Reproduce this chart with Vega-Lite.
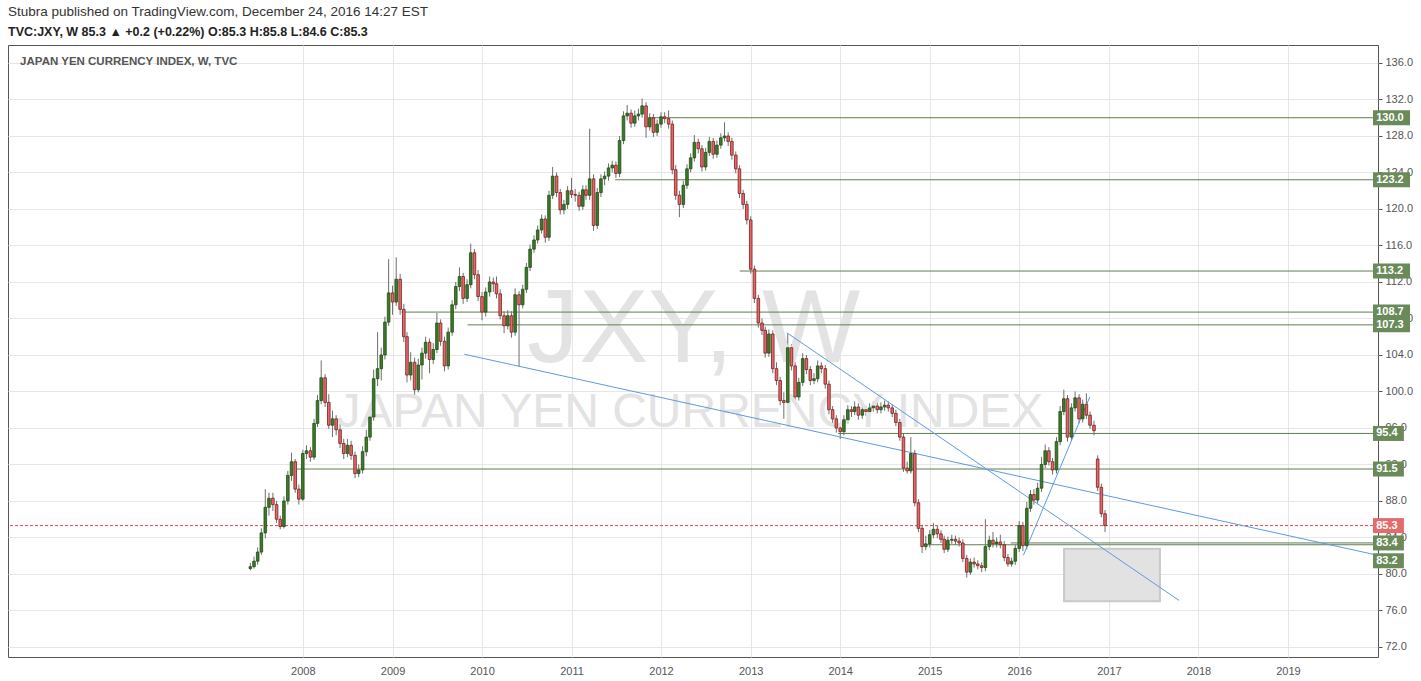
{
  "$schema": "https://vega.github.io/schema/vega-lite/v6.json",
  "width": 1370,
  "height": 612,
  "padding": {"left": 7, "top": 5, "right": 0, "bottom": 0},
  "background": "#ffffff",
  "title": {
    "text": "Stubra published on TradingView.com, December 24, 2016 14:27 EST",
    "subtitle": "TVC:JXY, W  85.3 ▲ +0.2 (+0.22%)  O:85.3  H:85.8  L:84.6  C:85.3",
    "anchor": "start", "frame": "group", "baseline": "top",
    "font": "Liberation Sans", "fontSize": 13.5, "fontWeight": "normal", "color": "#333333",
    "subtitleFont": "Liberation Sans", "subtitleFontSize": 12.5, "subtitleFontWeight": "bold", "subtitleColor": "#222222",
    "subtitlePadding": 7, "offset": 7
  },
  "config": {
    "view": {"stroke": "#555555", "strokeWidth": 1},
    "axis": {"labelFont": "Liberation Sans", "labelFontSize": 11, "labelColor": "#555555", "gridColor": "#e6e6e6", "domain": false, "title": null, "labelOverlap": false},
    "axisX": {"ticks": false, "labelPadding": 8},
    "axisY": {"ticks": true, "tickSize": 4, "tickColor": "#555555", "labelPadding": 3, "labelOverlap": false}
  },
  "datasets": {
    "jxy": [
      {"d":"2007-06-01","o":80.6,"h":81.2,"l":80.4,"c":80.8},
      {"d":"2007-06-16","o":80.8,"h":81.9,"l":80.6,"c":81.4},
      {"d":"2007-07-01","o":81.4,"h":82.9,"l":81.0,"c":82.4},
      {"d":"2007-07-16","o":82.4,"h":85.0,"l":82.1,"c":84.5},
      {"d":"2007-08-01","o":84.5,"h":89.3,"l":83.9,"c":87.3},
      {"d":"2007-08-16","o":87.3,"h":88.9,"l":86.4,"c":88.3},
      {"d":"2007-09-01","o":88.3,"h":88.9,"l":86.9,"c":87.6},
      {"d":"2007-09-16","o":87.6,"h":88.0,"l":85.6,"c":86.0},
      {"d":"2007-10-01","o":86.0,"h":86.4,"l":84.9,"c":85.2},
      {"d":"2007-10-16","o":85.2,"h":88.5,"l":85.0,"c":88.0},
      {"d":"2007-11-01","o":88.0,"h":91.3,"l":87.6,"c":90.8},
      {"d":"2007-11-16","o":90.8,"h":93.3,"l":90.2,"c":92.3},
      {"d":"2007-12-01","o":92.3,"h":92.6,"l":88.9,"c":89.3},
      {"d":"2007-12-16","o":89.3,"h":89.8,"l":87.6,"c":88.2},
      {"d":"2008-01-01","o":88.2,"h":93.6,"l":88.0,"c":93.2},
      {"d":"2008-01-16","o":93.2,"h":94.1,"l":92.6,"c":93.5},
      {"d":"2008-02-01","o":93.5,"h":93.9,"l":92.3,"c":92.8},
      {"d":"2008-02-16","o":92.8,"h":97.0,"l":92.5,"c":96.5},
      {"d":"2008-03-01","o":96.5,"h":99.6,"l":96.1,"c":99.0},
      {"d":"2008-03-16","o":99.0,"h":103.4,"l":98.6,"c":101.5},
      {"d":"2008-04-01","o":101.5,"h":101.9,"l":98.3,"c":98.8},
      {"d":"2008-04-16","o":98.8,"h":99.7,"l":95.9,"c":96.3},
      {"d":"2008-05-01","o":96.3,"h":97.9,"l":95.0,"c":97.0},
      {"d":"2008-05-16","o":97.0,"h":97.4,"l":95.2,"c":95.8},
      {"d":"2008-06-01","o":95.8,"h":96.5,"l":93.8,"c":94.3},
      {"d":"2008-06-16","o":94.3,"h":94.8,"l":92.6,"c":93.2},
      {"d":"2008-07-01","o":93.2,"h":94.8,"l":92.8,"c":94.1},
      {"d":"2008-07-16","o":94.1,"h":94.6,"l":92.5,"c":93.0},
      {"d":"2008-08-01","o":93.0,"h":93.4,"l":90.5,"c":91.0},
      {"d":"2008-08-16","o":91.0,"h":92.0,"l":90.6,"c":91.4},
      {"d":"2008-09-01","o":91.4,"h":94.0,"l":91.0,"c":93.4},
      {"d":"2008-09-16","o":93.4,"h":95.8,"l":92.9,"c":95.0},
      {"d":"2008-10-01","o":95.0,"h":97.9,"l":94.6,"c":97.2},
      {"d":"2008-10-16","o":97.2,"h":102.4,"l":96.8,"c":101.4},
      {"d":"2008-11-01","o":101.4,"h":106.5,"l":100.6,"c":102.5},
      {"d":"2008-11-16","o":102.5,"h":104.8,"l":101.2,"c":104.0},
      {"d":"2008-12-01","o":104.0,"h":108.2,"l":103.5,"c":107.6},
      {"d":"2008-12-16","o":107.6,"h":114.5,"l":107.2,"c":110.8},
      {"d":"2009-01-01","o":110.8,"h":111.6,"l":108.4,"c":109.8},
      {"d":"2009-01-16","o":109.8,"h":114.7,"l":109.4,"c":112.3},
      {"d":"2009-02-01","o":112.3,"h":112.9,"l":108.4,"c":109.0},
      {"d":"2009-02-16","o":109.0,"h":109.6,"l":105.4,"c":106.0},
      {"d":"2009-03-01","o":106.0,"h":106.5,"l":101.0,"c":101.8},
      {"d":"2009-03-16","o":101.8,"h":104.3,"l":101.2,"c":103.2},
      {"d":"2009-04-01","o":103.2,"h":103.7,"l":99.6,"c":100.2},
      {"d":"2009-04-16","o":100.2,"h":103.6,"l":99.9,"c":102.9},
      {"d":"2009-05-01","o":102.9,"h":104.8,"l":101.3,"c":104.2},
      {"d":"2009-05-16","o":104.2,"h":106.0,"l":103.6,"c":105.4},
      {"d":"2009-06-01","o":105.4,"h":105.8,"l":102.0,"c":103.5},
      {"d":"2009-06-16","o":103.5,"h":105.3,"l":103.0,"c":104.6},
      {"d":"2009-07-01","o":104.6,"h":108.6,"l":104.2,"c":107.5},
      {"d":"2009-07-16","o":107.5,"h":107.9,"l":105.0,"c":105.5},
      {"d":"2009-08-01","o":105.5,"h":106.0,"l":102.2,"c":102.8},
      {"d":"2009-08-16","o":102.8,"h":107.0,"l":102.4,"c":106.5},
      {"d":"2009-09-01","o":106.5,"h":110.0,"l":106.1,"c":109.5},
      {"d":"2009-09-16","o":109.5,"h":112.0,"l":109.0,"c":111.5},
      {"d":"2009-10-01","o":111.5,"h":113.6,"l":111.0,"c":112.6},
      {"d":"2009-10-16","o":112.6,"h":113.0,"l":109.6,"c":110.2},
      {"d":"2009-11-01","o":110.2,"h":112.3,"l":109.8,"c":111.7},
      {"d":"2009-11-16","o":111.7,"h":116.2,"l":111.3,"c":115.2},
      {"d":"2009-12-01","o":115.2,"h":115.6,"l":112.3,"c":112.8},
      {"d":"2009-12-16","o":112.8,"h":113.3,"l":109.9,"c":110.4},
      {"d":"2010-01-01","o":110.4,"h":110.9,"l":107.8,"c":108.7},
      {"d":"2010-01-16","o":108.7,"h":111.4,"l":108.2,"c":110.9},
      {"d":"2010-02-01","o":110.9,"h":112.6,"l":110.4,"c":112.0},
      {"d":"2010-02-16","o":112.0,"h":112.5,"l":110.9,"c":111.8},
      {"d":"2010-03-01","o":111.8,"h":112.6,"l":110.2,"c":110.7},
      {"d":"2010-03-16","o":110.7,"h":111.2,"l":107.9,"c":108.3},
      {"d":"2010-04-01","o":108.3,"h":108.8,"l":106.4,"c":107.2},
      {"d":"2010-04-16","o":107.2,"h":108.9,"l":106.8,"c":108.3},
      {"d":"2010-05-01","o":108.3,"h":108.8,"l":105.9,"c":106.5},
      {"d":"2010-05-16","o":106.5,"h":111.3,"l":106.1,"c":110.6},
      {"d":"2010-06-01","o":110.6,"h":111.0,"l":102.7,"c":109.5},
      {"d":"2010-06-16","o":109.5,"h":111.7,"l":109.1,"c":111.2},
      {"d":"2010-07-01","o":111.2,"h":114.1,"l":110.8,"c":113.6},
      {"d":"2010-07-16","o":113.6,"h":116.1,"l":113.2,"c":115.6},
      {"d":"2010-08-01","o":115.6,"h":117.1,"l":115.2,"c":116.6},
      {"d":"2010-08-16","o":116.6,"h":118.2,"l":116.2,"c":117.7},
      {"d":"2010-09-01","o":117.7,"h":119.4,"l":117.3,"c":118.9},
      {"d":"2010-09-16","o":118.9,"h":119.3,"l":116.3,"c":116.9},
      {"d":"2010-10-01","o":116.9,"h":122.0,"l":116.5,"c":121.5},
      {"d":"2010-10-16","o":121.5,"h":124.6,"l":121.1,"c":123.6},
      {"d":"2010-11-01","o":123.6,"h":124.0,"l":121.3,"c":121.8},
      {"d":"2010-11-16","o":121.8,"h":122.2,"l":119.4,"c":119.9},
      {"d":"2010-12-01","o":119.9,"h":121.0,"l":119.4,"c":120.5},
      {"d":"2010-12-16","o":120.5,"h":122.5,"l":120.0,"c":122.0},
      {"d":"2011-01-01","o":122.0,"h":123.4,"l":121.2,"c":121.6},
      {"d":"2011-01-16","o":121.6,"h":122.2,"l":120.8,"c":121.5},
      {"d":"2011-02-01","o":121.5,"h":121.9,"l":119.8,"c":120.3},
      {"d":"2011-02-16","o":120.3,"h":122.6,"l":119.9,"c":122.1},
      {"d":"2011-03-01","o":122.1,"h":122.6,"l":121.0,"c":121.5},
      {"d":"2011-03-16","o":121.5,"h":128.8,"l":121.0,"c":123.3},
      {"d":"2011-04-01","o":123.3,"h":123.8,"l":117.6,"c":118.2},
      {"d":"2011-04-16","o":118.2,"h":122.3,"l":117.8,"c":121.8},
      {"d":"2011-05-01","o":121.8,"h":123.8,"l":121.3,"c":123.3},
      {"d":"2011-05-16","o":123.3,"h":124.1,"l":122.6,"c":123.6},
      {"d":"2011-06-01","o":123.6,"h":125.0,"l":123.1,"c":124.5},
      {"d":"2011-06-16","o":124.5,"h":125.3,"l":124.0,"c":124.8},
      {"d":"2011-07-01","o":124.8,"h":125.2,"l":123.4,"c":123.9},
      {"d":"2011-07-16","o":123.9,"h":128.0,"l":123.5,"c":127.5},
      {"d":"2011-08-01","o":127.5,"h":130.7,"l":127.1,"c":130.2},
      {"d":"2011-08-16","o":130.2,"h":131.4,"l":129.7,"c":130.5},
      {"d":"2011-09-01","o":130.5,"h":130.9,"l":128.9,"c":129.4},
      {"d":"2011-09-16","o":129.4,"h":130.8,"l":129.0,"c":130.2},
      {"d":"2011-10-01","o":130.2,"h":131.0,"l":129.7,"c":130.4},
      {"d":"2011-10-16","o":130.4,"h":132.1,"l":130.0,"c":131.3},
      {"d":"2011-11-01","o":131.3,"h":131.7,"l":127.8,"c":129.0},
      {"d":"2011-11-16","o":129.0,"h":130.5,"l":128.6,"c":130.0},
      {"d":"2011-12-01","o":130.0,"h":130.4,"l":127.9,"c":128.4},
      {"d":"2011-12-16","o":128.4,"h":129.8,"l":128.0,"c":129.3},
      {"d":"2012-01-01","o":129.3,"h":130.6,"l":128.9,"c":130.1},
      {"d":"2012-01-16","o":130.1,"h":130.6,"l":129.4,"c":129.9},
      {"d":"2012-02-01","o":129.9,"h":130.8,"l":128.8,"c":129.3},
      {"d":"2012-02-16","o":129.3,"h":129.7,"l":123.8,"c":124.3},
      {"d":"2012-03-01","o":124.3,"h":124.8,"l":121.0,"c":121.5},
      {"d":"2012-03-16","o":121.5,"h":122.0,"l":119.1,"c":120.5},
      {"d":"2012-04-01","o":120.5,"h":123.1,"l":120.1,"c":122.6},
      {"d":"2012-04-16","o":122.6,"h":124.9,"l":122.2,"c":124.4},
      {"d":"2012-05-01","o":124.4,"h":126.1,"l":124.0,"c":125.6},
      {"d":"2012-05-16","o":125.6,"h":128.1,"l":125.2,"c":127.3},
      {"d":"2012-06-01","o":127.3,"h":127.7,"l":126.1,"c":126.6},
      {"d":"2012-06-16","o":126.6,"h":127.0,"l":124.1,"c":124.6},
      {"d":"2012-07-01","o":124.6,"h":126.7,"l":124.2,"c":126.2},
      {"d":"2012-07-16","o":126.2,"h":127.9,"l":125.8,"c":127.4},
      {"d":"2012-08-01","o":127.4,"h":127.8,"l":125.5,"c":126.0},
      {"d":"2012-08-16","o":126.0,"h":127.5,"l":125.6,"c":127.0},
      {"d":"2012-09-01","o":127.0,"h":128.3,"l":126.6,"c":127.8},
      {"d":"2012-09-16","o":127.8,"h":129.5,"l":127.4,"c":128.0},
      {"d":"2012-10-01","o":128.0,"h":128.4,"l":126.9,"c":127.4},
      {"d":"2012-10-16","o":127.4,"h":127.8,"l":125.4,"c":125.9},
      {"d":"2012-11-01","o":125.9,"h":126.3,"l":123.9,"c":124.4},
      {"d":"2012-11-16","o":124.4,"h":124.8,"l":121.2,"c":121.7},
      {"d":"2012-12-01","o":121.7,"h":122.1,"l":120.0,"c":120.5},
      {"d":"2012-12-16","o":120.5,"h":120.9,"l":118.3,"c":118.8},
      {"d":"2013-01-01","o":118.8,"h":119.2,"l":112.9,"c":113.4},
      {"d":"2013-01-16","o":113.4,"h":113.8,"l":109.7,"c":110.2},
      {"d":"2013-02-01","o":110.2,"h":110.6,"l":107.0,"c":107.5},
      {"d":"2013-02-16","o":107.5,"h":108.0,"l":106.2,"c":106.7},
      {"d":"2013-03-01","o":106.7,"h":107.1,"l":103.7,"c":104.2},
      {"d":"2013-03-16","o":104.2,"h":106.8,"l":103.8,"c":106.3},
      {"d":"2013-04-01","o":106.3,"h":106.7,"l":102.0,"c":102.5},
      {"d":"2013-04-16","o":102.5,"h":103.2,"l":100.7,"c":101.2},
      {"d":"2013-05-01","o":101.2,"h":101.6,"l":98.5,"c":99.0},
      {"d":"2013-05-16","o":99.0,"h":99.9,"l":97.0,"c":98.8},
      {"d":"2013-06-01","o":98.8,"h":106.3,"l":98.4,"c":104.8},
      {"d":"2013-06-16","o":104.8,"h":105.2,"l":102.3,"c":102.8},
      {"d":"2013-07-01","o":102.8,"h":103.2,"l":98.9,"c":99.4},
      {"d":"2013-07-16","o":99.4,"h":101.5,"l":99.0,"c":101.0},
      {"d":"2013-08-01","o":101.0,"h":104.2,"l":100.6,"c":103.6},
      {"d":"2013-08-16","o":103.6,"h":104.0,"l":101.9,"c":102.4},
      {"d":"2013-09-01","o":102.4,"h":102.8,"l":100.7,"c":101.2},
      {"d":"2013-09-16","o":101.2,"h":102.0,"l":100.8,"c":101.4},
      {"d":"2013-10-01","o":101.4,"h":103.4,"l":101.0,"c":102.8},
      {"d":"2013-10-16","o":102.8,"h":103.2,"l":102.0,"c":102.5},
      {"d":"2013-11-01","o":102.5,"h":102.9,"l":100.3,"c":100.8},
      {"d":"2013-11-16","o":100.8,"h":101.2,"l":97.5,"c":98.0},
      {"d":"2013-12-01","o":98.0,"h":98.4,"l":96.5,"c":97.0},
      {"d":"2013-12-16","o":97.0,"h":97.4,"l":95.5,"c":96.0},
      {"d":"2014-01-01","o":96.0,"h":96.4,"l":94.8,"c":95.6},
      {"d":"2014-01-16","o":95.6,"h":97.4,"l":95.2,"c":96.9},
      {"d":"2014-02-01","o":96.9,"h":98.5,"l":96.5,"c":98.0},
      {"d":"2014-02-16","o":98.0,"h":98.4,"l":97.2,"c":97.8},
      {"d":"2014-03-01","o":97.8,"h":98.9,"l":97.4,"c":98.3},
      {"d":"2014-03-16","o":98.3,"h":98.7,"l":96.9,"c":97.4},
      {"d":"2014-04-01","o":97.4,"h":98.5,"l":97.0,"c":98.0},
      {"d":"2014-04-16","o":98.0,"h":98.4,"l":97.3,"c":97.8},
      {"d":"2014-05-01","o":97.8,"h":98.7,"l":97.4,"c":98.2},
      {"d":"2014-05-16","o":98.2,"h":98.9,"l":97.8,"c":98.4},
      {"d":"2014-06-01","o":98.4,"h":98.8,"l":97.6,"c":98.0},
      {"d":"2014-06-16","o":98.0,"h":98.8,"l":97.6,"c":98.3},
      {"d":"2014-07-01","o":98.3,"h":99.0,"l":97.9,"c":98.5},
      {"d":"2014-07-16","o":98.5,"h":98.9,"l":97.8,"c":98.2},
      {"d":"2014-08-01","o":98.2,"h":98.6,"l":97.2,"c":97.6},
      {"d":"2014-08-16","o":97.6,"h":98.0,"l":96.2,"c":96.6},
      {"d":"2014-09-01","o":96.6,"h":97.0,"l":94.6,"c":95.0},
      {"d":"2014-09-16","o":95.0,"h":95.4,"l":91.2,"c":91.6},
      {"d":"2014-10-01","o":91.6,"h":92.3,"l":91.0,"c":91.3},
      {"d":"2014-10-16","o":91.3,"h":95.0,"l":91.0,"c":93.2},
      {"d":"2014-11-01","o":93.2,"h":93.6,"l":87.4,"c":87.8},
      {"d":"2014-11-16","o":87.8,"h":88.2,"l":84.6,"c":85.0},
      {"d":"2014-12-01","o":85.0,"h":85.4,"l":82.3,"c":83.0},
      {"d":"2014-12-16","o":83.0,"h":84.2,"l":82.6,"c":83.3},
      {"d":"2015-01-01","o":83.3,"h":84.8,"l":82.9,"c":84.3},
      {"d":"2015-01-16","o":84.3,"h":85.6,"l":83.9,"c":84.9},
      {"d":"2015-02-01","o":84.9,"h":85.3,"l":83.9,"c":84.4},
      {"d":"2015-02-16","o":84.4,"h":84.8,"l":83.4,"c":83.8},
      {"d":"2015-03-01","o":83.8,"h":84.2,"l":82.3,"c":82.7},
      {"d":"2015-03-16","o":82.7,"h":84.1,"l":82.4,"c":83.7},
      {"d":"2015-04-01","o":83.7,"h":84.3,"l":83.3,"c":83.8},
      {"d":"2015-04-16","o":83.8,"h":84.2,"l":83.2,"c":83.6},
      {"d":"2015-05-01","o":83.6,"h":84.0,"l":83.0,"c":83.4},
      {"d":"2015-05-16","o":83.4,"h":83.8,"l":81.3,"c":81.7},
      {"d":"2015-06-01","o":81.7,"h":82.1,"l":79.6,"c":80.2},
      {"d":"2015-06-16","o":80.2,"h":81.7,"l":79.9,"c":81.3},
      {"d":"2015-07-01","o":81.3,"h":81.8,"l":80.7,"c":81.1},
      {"d":"2015-07-16","o":81.1,"h":81.5,"l":80.5,"c":80.9},
      {"d":"2015-08-01","o":80.9,"h":81.3,"l":80.2,"c":80.7},
      {"d":"2015-08-16","o":80.7,"h":86.0,"l":80.3,"c":83.0},
      {"d":"2015-09-01","o":83.0,"h":84.2,"l":82.6,"c":83.7},
      {"d":"2015-09-16","o":83.7,"h":84.6,"l":82.9,"c":83.3},
      {"d":"2015-10-01","o":83.3,"h":84.0,"l":82.9,"c":83.5},
      {"d":"2015-10-16","o":83.5,"h":84.3,"l":82.8,"c":83.2},
      {"d":"2015-11-01","o":83.2,"h":83.6,"l":81.4,"c":81.8},
      {"d":"2015-11-16","o":81.8,"h":82.2,"l":80.8,"c":81.1},
      {"d":"2015-12-01","o":81.1,"h":81.8,"l":80.8,"c":81.4},
      {"d":"2015-12-16","o":81.4,"h":83.2,"l":81.0,"c":82.8},
      {"d":"2016-01-01","o":82.8,"h":85.8,"l":82.4,"c":85.3},
      {"d":"2016-01-16","o":85.3,"h":85.7,"l":82.5,"c":83.1},
      {"d":"2016-02-01","o":83.1,"h":87.9,"l":82.7,"c":87.2},
      {"d":"2016-02-16","o":87.2,"h":89.2,"l":86.8,"c":88.7},
      {"d":"2016-03-01","o":88.7,"h":89.3,"l":87.6,"c":88.1},
      {"d":"2016-03-16","o":88.1,"h":90.0,"l":87.7,"c":89.4},
      {"d":"2016-04-01","o":89.4,"h":92.8,"l":89.0,"c":92.0},
      {"d":"2016-04-16","o":92.0,"h":94.2,"l":91.6,"c":93.5},
      {"d":"2016-05-01","o":93.5,"h":93.9,"l":91.9,"c":92.3},
      {"d":"2016-05-16","o":92.3,"h":92.7,"l":90.9,"c":91.4},
      {"d":"2016-06-01","o":91.4,"h":95.0,"l":91.0,"c":94.5},
      {"d":"2016-06-16","o":94.5,"h":98.4,"l":94.1,"c":97.8},
      {"d":"2016-07-01","o":97.8,"h":100.2,"l":97.4,"c":99.2},
      {"d":"2016-07-16","o":99.2,"h":99.6,"l":94.5,"c":95.0},
      {"d":"2016-08-01","o":95.0,"h":98.7,"l":94.6,"c":98.2},
      {"d":"2016-08-16","o":98.2,"h":100.0,"l":97.8,"c":99.3},
      {"d":"2016-09-01","o":99.3,"h":99.7,"l":96.5,"c":97.0},
      {"d":"2016-09-16","o":97.0,"h":99.1,"l":96.6,"c":98.6},
      {"d":"2016-10-01","o":98.6,"h":99.8,"l":97.0,"c":97.4},
      {"d":"2016-10-16","o":97.4,"h":97.8,"l":95.9,"c":96.3},
      {"d":"2016-11-01","o":96.3,"h":96.8,"l":95.2,"c":95.7},
      {"d":"2016-11-16","o":92.6,"h":93.0,"l":89.1,"c":89.5},
      {"d":"2016-12-01","o":89.5,"h":89.9,"l":86.2,"c":86.6},
      {"d":"2016-12-16","o":86.6,"h":87.0,"l":84.6,"c":85.3}
    ],
    "levels": [
      {"v":130.0,"from":"2011-11-20"},
      {"v":123.2,"from":"2011-06-28"},
      {"v":113.2,"from":"2012-11-17"},
      {"v":108.7,"from":"2009-02-06"},
      {"v":107.3,"from":"2009-11-03"},
      {"v":95.4,"from":"2013-12-23"},
      {"v":91.5,"from":"2007-11-25"},
      {"v":83.4,"from":"2015-11-27"},
      {"v":83.2,"from":"2014-12-17"}
    ],
    "trends": [
      {"d1":"2009-10-21","v1":104.08,"d2":"2019-12-14","v2":82.16},
      {"d1":"2013-05-28","v1":106.44,"d2":"2017-10-14","v2":77.1},
      {"d1":"2016-01-18","v1":82.04,"d2":"2016-10-15","v2":99.4}
    ],
    "zone": [
      {"d1":"2016-07-02","d2":"2017-07-28","v1":82.77,"v2":77.0}
    ]
  },
  "layer": [
    {
      "data": {"name": "jxy"},
      "mark": {"type": "rule", "color": "#6e6e6e", "strokeWidth": 1},
      "encoding": {
        "x": {"field": "d", "type": "temporal",
              "scale": {"type": "utc", "domain": [{"year": 2004, "month": 10, "date": 6, "utc": true}, {"year": 2019, "month": 12, "date": 14, "utc": true}]},
              "axis": {"orient": "bottom", "format": "%Y", "grid": true,
                       "values": [{"year":2008,"utc":true},{"year":2009,"utc":true},{"year":2010,"utc":true},{"year":2011,"utc":true},{"year":2012,"utc":true},{"year":2013,"utc":true},{"year":2014,"utc":true},{"year":2015,"utc":true},{"year":2016,"utc":true},{"year":2017,"utc":true},{"year":2018,"utc":true},{"year":2019,"utc":true}]},
              "title": null},
        "y": {"field": "l", "type": "quantitative",
              "scale": {"domain": [70.9, 137.97], "nice": false, "zero": false},
              "axis": {"orient": "right", "format": ".1f", "grid": true, "labelOverlap": false,
                       "values": [72,76,80,84,88,92,96,100,104,108,112,116,120,124,128,132,136]},
              "title": null},
        "y2": {"field": "h"}
      }
    },
    {
      "data": {"values": [{}]},
      "mark": {"type": "text", "font": "Liberation Sans", "fontSize": 104, "color": "#e3e3e3", "align": "center", "baseline": "alphabetic"},
      "encoding": {
        "x": {"datum": {"year": 2012, "month": 5, "date": 13, "utc": true}, "type": "temporal", "title": null},
        "y": {"datum": 103.2, "type": "quantitative", "title": null, "axis": {"orient": "right", "format": ".1f", "grid": true, "labelOverlap": false, "values": [72,76,80,84,88,92,96,100,104,108,112,116,120,124,128,132,136]}},
        "text": {"value": "JXY, W"}
      }
    },
    {
      "data": {"values": [{}]},
      "mark": {"type": "text", "font": "Liberation Sans", "fontSize": 48, "color": "#e3e3e3", "align": "center", "baseline": "alphabetic"},
      "encoding": {
        "x": {"datum": {"year": 2012, "month": 4, "date": 28, "utc": true}, "type": "temporal", "title": null},
        "y": {"datum": 96.1, "type": "quantitative", "title": null, "axis": {"orient": "right", "format": ".1f", "grid": true, "labelOverlap": false, "values": [72,76,80,84,88,92,96,100,104,108,112,116,120,124,128,132,136]}},
        "text": {"value": "JAPAN YEN CURRENCY INDEX"}
      }
    },
    {
      "data": {"name": "zone"},
      "mark": {"type": "rect", "fill": "#e2e2e2", "stroke": "#c9c9c9", "strokeWidth": 2},
      "encoding": {
        "x": {"field": "d1", "type": "temporal", "title": null},
        "x2": {"field": "d2"},
        "y": {"field": "v1", "type": "quantitative", "title": null, "axis": {"orient": "right", "format": ".1f", "grid": true, "labelOverlap": false, "values": [72,76,80,84,88,92,96,100,104,108,112,116,120,124,128,132,136]}},
        "y2": {"field": "v2"}
      }
    },
    {
      "data": {"name": "levels"},
      "mark": {"type": "rule", "color": "#5f7d50", "strokeWidth": 1},
      "encoding": {
        "x": {"field": "from", "type": "temporal", "title": null},
        "x2": {"datum": {"year": 2019, "month": 12, "date": 14, "utc": true}},
        "y": {"field": "v", "type": "quantitative", "title": null, "axis": {"orient": "right", "format": ".1f", "grid": true, "labelOverlap": false, "values": [72,76,80,84,88,92,96,100,104,108,112,116,120,124,128,132,136]}}
      }
    },
    {
      "data": {"values": [{}]},
      "mark": {"type": "rule", "stroke": "#e04848", "strokeWidth": 1, "strokeDash": [3, 2]},
      "encoding": {
        "y": {"datum": 85.3, "type": "quantitative", "title": null, "axis": {"orient": "right", "format": ".1f", "grid": true, "labelOverlap": false, "values": [72,76,80,84,88,92,96,100,104,108,112,116,120,124,128,132,136]}}
      }
    },
    {
      "data": {"name": "trends"},
      "mark": {"type": "rule", "color": "#5b9be0", "strokeWidth": 1},
      "encoding": {
        "x": {"field": "d1", "type": "temporal", "title": null},
        "x2": {"field": "d2"},
        "y": {"field": "v1", "type": "quantitative", "title": null, "axis": {"orient": "right", "format": ".1f", "grid": true, "labelOverlap": false, "values": [72,76,80,84,88,92,96,100,104,108,112,116,120,124,128,132,136]}},
        "y2": {"field": "v2"}
      }
    },
    {
      "data": {"name": "jxy"},
      "transform": [{"filter": "datum.c >= datum.o"}],
      "mark": {"type": "bar", "width": 2.6, "fill": "#3c7b28", "stroke": "#1f4a14", "strokeWidth": 0.8},
      "encoding": {
        "x": {"field": "d", "type": "temporal", "title": null},
        "y": {"field": "o", "type": "quantitative", "title": null, "axis": {"orient": "right", "format": ".1f", "grid": true, "labelOverlap": false, "values": [72,76,80,84,88,92,96,100,104,108,112,116,120,124,128,132,136]}},
        "y2": {"field": "c"}
      }
    },
    {
      "data": {"name": "jxy"},
      "transform": [{"filter": "datum.c < datum.o"}],
      "mark": {"type": "bar", "width": 2.6, "fill": "#e46a6a", "stroke": "#7a1a1a", "strokeWidth": 0.8},
      "encoding": {
        "x": {"field": "d", "type": "temporal", "title": null},
        "y": {"field": "o", "type": "quantitative", "title": null, "axis": {"orient": "right", "format": ".1f", "grid": true, "labelOverlap": false, "values": [72,76,80,84,88,92,96,100,104,108,112,116,120,124,128,132,136]}},
        "y2": {"field": "c"}
      }
    },
    {
      "data": {"values": [{}]},
      "mark": {"type": "text", "font": "Liberation Sans", "fontSize": 11.5, "fontWeight": "bold", "color": "#555555", "align": "left", "baseline": "middle"},
      "encoding": {
        "x": {"datum": {"year": 2004, "month": 11, "date": 4, "utc": true}, "type": "temporal", "title": null},
        "y": {"datum": 136.1, "type": "quantitative", "title": null, "axis": {"orient": "right", "format": ".1f", "grid": true, "labelOverlap": false, "values": [72,76,80,84,88,92,96,100,104,108,112,116,120,124,128,132,136]}},
        "text": {"value": "JAPAN YEN CURRENCY INDEX, W, TVC"}
      }
    },
    {
      "data": {"name": "levels"},
      "transform": [{"filter": "datum.v >= 100"}],
      "mark": {"type": "rule", "color": "#6a8a5a", "strokeWidth": 15, "strokeCap": "butt"},
      "encoding": {
        "x": {"datum": {"year": 2019, "month": 12, "date": 14, "utc": true}, "type": "temporal", "title": null},
        "x2": {"datum": {"year": 2020, "month": 5, "date": 13, "utc": true}},
        "y": {"field": "v", "type": "quantitative", "title": null, "axis": {"orient": "right", "format": ".1f", "grid": true, "labelOverlap": false, "values": [72,76,80,84,88,92,96,100,104,108,112,116,120,124,128,132,136]}}
      }
    },
    {
      "data": {"name": "levels"},
      "transform": [{"filter": "datum.v < 100 && datum.v != 83.2"}],
      "mark": {"type": "rule", "color": "#6a8a5a", "strokeWidth": 15, "strokeCap": "butt"},
      "encoding": {
        "x": {"datum": {"year": 2019, "month": 12, "date": 14, "utc": true}, "type": "temporal", "title": null},
        "x2": {"datum": {"year": 2020, "month": 4, "date": 18, "utc": true}},
        "y": {"field": "v", "type": "quantitative", "title": null, "axis": {"orient": "right", "format": ".1f", "grid": true, "labelOverlap": false, "values": [72,76,80,84,88,92,96,100,104,108,112,116,120,124,128,132,136]}}
      }
    },
    {
      "data": {"name": "levels"},
      "transform": [{"filter": "datum.v == 83.2"}],
      "mark": {"type": "rule", "color": "#6a8a5a", "strokeWidth": 15, "strokeCap": "butt", "yOffset": 16},
      "encoding": {
        "x": {"datum": {"year": 2019, "month": 12, "date": 14, "utc": true}, "type": "temporal", "title": null},
        "x2": {"datum": {"year": 2020, "month": 4, "date": 18, "utc": true}},
        "y": {"field": "v", "type": "quantitative", "title": null, "axis": {"orient": "right", "format": ".1f", "grid": true, "labelOverlap": false, "values": [72,76,80,84,88,92,96,100,104,108,112,116,120,124,128,132,136]}}
      }
    },
    {
      "data": {"values": [{}]},
      "mark": {"type": "rule", "color": "#e36b6b", "strokeWidth": 15, "strokeCap": "butt"},
      "encoding": {
        "x": {"datum": {"year": 2019, "month": 12, "date": 14, "utc": true}, "type": "temporal", "title": null},
        "x2": {"datum": {"year": 2020, "month": 4, "date": 18, "utc": true}},
        "y": {"datum": 85.3, "type": "quantitative", "title": null, "axis": {"orient": "right", "format": ".1f", "grid": true, "labelOverlap": false, "values": [72,76,80,84,88,92,96,100,104,108,112,116,120,124,128,132,136]}}
      }
    },
    {
      "data": {"name": "levels"},
      "transform": [{"filter": "datum.v != 83.2"}],
      "mark": {"type": "text", "font": "Liberation Sans", "fontSize": 11, "fontWeight": "bold", "color": "#ffffff", "align": "left", "baseline": "middle"},
      "encoding": {
        "x": {"datum": {"year": 2019, "month": 12, "date": 27, "utc": true}, "type": "temporal", "title": null},
        "y": {"field": "v", "type": "quantitative", "title": null, "axis": {"orient": "right", "format": ".1f", "grid": true, "labelOverlap": false, "values": [72,76,80,84,88,92,96,100,104,108,112,116,120,124,128,132,136]}},
        "text": {"field": "v", "type": "quantitative", "format": ".1f"}
      }
    },
    {
      "data": {"name": "levels"},
      "transform": [{"filter": "datum.v == 83.2"}],
      "mark": {"type": "text", "font": "Liberation Sans", "fontSize": 11, "fontWeight": "bold", "color": "#ffffff", "align": "left", "baseline": "middle", "yOffset": 16},
      "encoding": {
        "x": {"datum": {"year": 2019, "month": 12, "date": 27, "utc": true}, "type": "temporal", "title": null},
        "y": {"field": "v", "type": "quantitative", "title": null, "axis": {"orient": "right", "format": ".1f", "grid": true, "labelOverlap": false, "values": [72,76,80,84,88,92,96,100,104,108,112,116,120,124,128,132,136]}},
        "text": {"field": "v", "type": "quantitative", "format": ".1f"}
      }
    },
    {
      "data": {"values": [{}]},
      "mark": {"type": "text", "font": "Liberation Sans", "fontSize": 11, "fontWeight": "bold", "color": "#ffffff", "align": "left", "baseline": "middle"},
      "encoding": {
        "x": {"datum": {"year": 2019, "month": 12, "date": 27, "utc": true}, "type": "temporal", "title": null},
        "y": {"datum": 85.3, "type": "quantitative", "title": null, "axis": {"orient": "right", "format": ".1f", "grid": true, "labelOverlap": false, "values": [72,76,80,84,88,92,96,100,104,108,112,116,120,124,128,132,136]}},
        "text": {"value": "85.3"}
      }
    }
  ]
}
